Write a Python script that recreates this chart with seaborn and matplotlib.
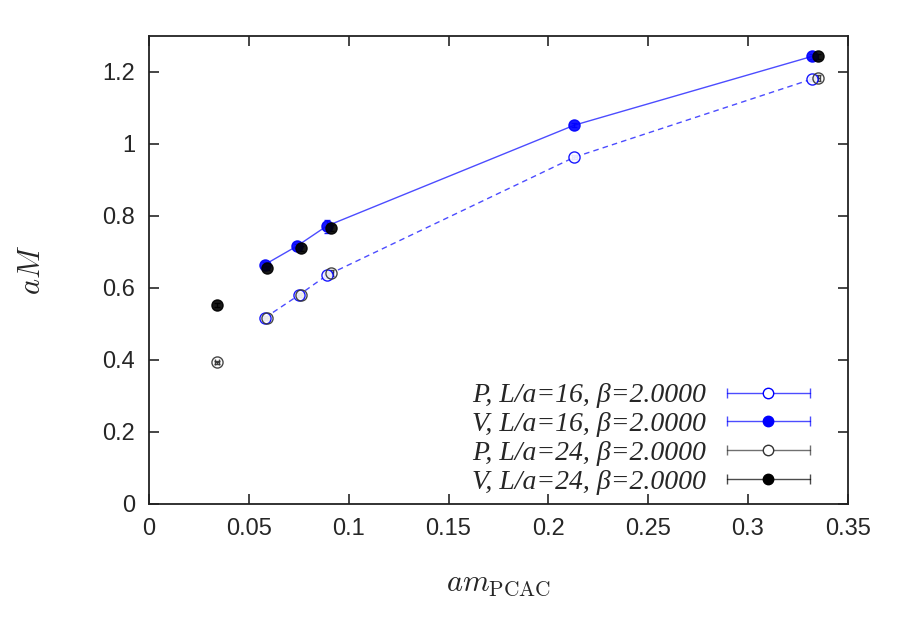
import numpy as np
import pandas as pd
import matplotlib
matplotlib.use("Agg")
import matplotlib.pyplot as plt
from matplotlib.ticker import FuncFormatter
from matplotlib.legend_handler import HandlerBase
from matplotlib.lines import Line2D
import seaborn as sns

# L/a=16 ensemble
x16_p = [0.058, 0.075, 0.089, 0.213, 0.332]
m16_p = [0.517, 0.580, 0.635, 0.963, 1.180]
e16_p = [0.006, 0.006, 0.008, 0.006, 0.006]
x16_v = [0.058, 0.074, 0.089, 0.213, 0.332]
m16_v = [0.665, 0.716, 0.772, 1.052, 1.243]
e16_v = [0.006, 0.006, 0.018, 0.006, 0.006]

# L/a=24 ensemble
x24_p = [0.034, 0.059, 0.076, 0.091, 0.335]
m24_p = [0.393, 0.517, 0.580, 0.642, 1.183]
e24_p = [0.005, 0.005, 0.006, 0.008, 0.008]
x24_v = [0.034, 0.059, 0.076, 0.091, 0.335]
m24_v = [0.553, 0.655, 0.710, 0.766, 1.243]
e24_v = [0.006, 0.006, 0.006, 0.008, 0.006]

# small horizontal error on the pseudoscalar mass
xe = 0.0012

labels = ["P, L/a=16, \u03b2=2.0000",
          "V, L/a=16, \u03b2=2.0000",
          "P, L/a=24, \u03b2=2.0000",
          "V, L/a=24, \u03b2=2.0000"]


class ErrKey(HandlerBase):
    # gnuplot style key: horizontal bar with end caps and the point in the middle
    def create_artists(self, legend, orig, xd, yd, width, height, fontsize, trans):
        c, fc = orig
        y = height / 2 - yd
        x0, x1 = -xd, -xd + width
        bar = Line2D([x0, x1], [y, y], color=c, lw=1.0, alpha=0.7)
        caps = Line2D([x0, x1], [y, y], ls="", marker="|", ms=7, mew=1.0,
                      color=c, alpha=0.7)
        pt = Line2D([(x0 + x1) / 2], [y], ls="", marker="o", ms=7.5,
                    mfc=fc, mec=c, mew=1.0)
        out = [bar, caps, pt]
        for a in out:
            a.set_transform(trans)
        return out


sns.set_theme(style="ticks")
plt.rcParams["mathtext.fontset"] = "cm"
plt.rcParams["font.family"] = ["Liberation Sans Narrow", "Liberation Sans", "DejaVu Sans"]

fig = plt.figure(figsize=(9, 6.3), dpi=100)
ax = fig.add_axes([0.1656, 0.2, 0.7764, 0.743])

blue = "#0000ff"
line16 = pd.DataFrame({"x": x16_p + x16_v, "m": m16_p + m16_v,
                       "ch": ["P"] * 5 + ["V"] * 5})
sns.lineplot(data=line16, x="x", y="m", style="ch", dashes={"P": (4, 3), "V": ""},
             color=blue, lw=1.0, alpha=0.7, legend=False, ax=ax, sort=False)

series = [
    (x16_p, m16_p, e16_p, xe, blue, "white"),
    (x16_v, m16_v, e16_v, None, blue, blue),
    (x24_p, m24_p, e24_p, xe, "#333333", "none"),
    (x24_v, m24_v, e24_v, None, "black", "black"),
]
for xs, ms, es, xerr, c, fc in series:
    ax.errorbar(xs, ms, yerr=es, xerr=xerr, fmt="o", ms=8, mfc=fc, mec=c,
                mew=1.0, ecolor=c, elinewidth=1.0, capsize=2.5, color=c,
                alpha=0.9)

ax.set_xlim(0, 0.35)
ax.set_ylim(0, 1.3)
ax.set_xticks(np.arange(0, 0.351, 0.05))
ax.set_yticks(np.arange(0, 1.21, 0.2))
fmt = FuncFormatter(lambda v, p: "%g" % round(v, 3))
ax.xaxis.set_major_formatter(fmt)
ax.yaxis.set_major_formatter(fmt)
ax.tick_params(direction="in", length=7, width=1.2, labelsize=17,
               top=True, right=True, pad=10)
for s in ax.spines.values():
    s.set_linewidth(1.3)
    s.set_color("#222222")

ax.set_xlabel(r"$am_{\rm PCAC}$", fontsize=22, labelpad=20)
ax.set_ylabel(r"$aM$", fontsize=22, labelpad=40)

keys = [(blue, "white"), (blue, blue), ("#333333", "white"), ("black", "black")]
leg = ax.legend(keys, labels, handler_map={tuple: ErrKey()}, loc="lower right",
                frameon=False, markerfirst=False, handlelength=3.0,
                handletextpad=0.75, labelspacing=0.12, borderaxespad=0.0,
                borderpad=0.0, bbox_to_anchor=(0.946, 0.02),
                prop={"family": "Liberation Serif", "style": "italic", "size": 20})

fig.savefig("out.png", dpi=100)
